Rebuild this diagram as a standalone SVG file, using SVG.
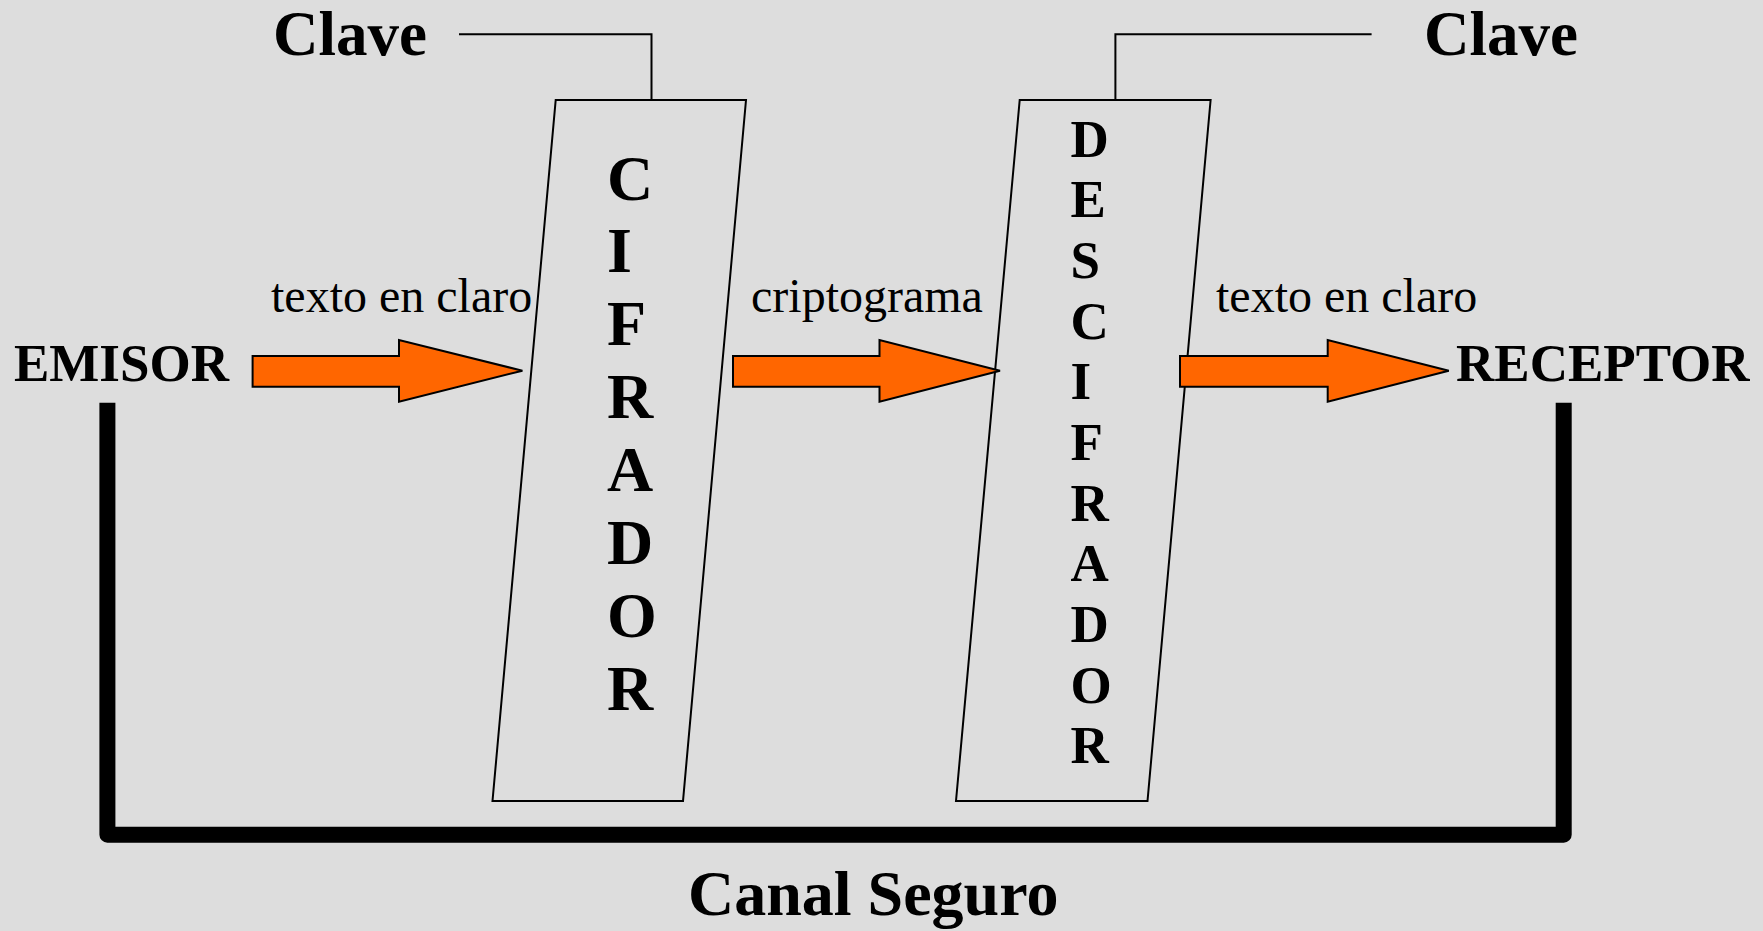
<svg xmlns="http://www.w3.org/2000/svg" width="1763" height="931" viewBox="0 0 1763 931">
<style>
.bg{fill:#DDDDDD}
.box{fill:#DDDDDD;stroke:#000;stroke-width:2}
.thin{fill:none;stroke:#000;stroke-width:2}
.arrow{fill:#FF6600;stroke:#000;stroke-width:2;stroke-linejoin:miter}
.chan{fill:none;stroke:#000;stroke-width:16;stroke-linejoin:round;stroke-linecap:butt}
.big{font-family:"Liberation Serif","Times New Roman",serif;font-weight:bold;fill:#000}
.reg{font-family:"Liberation Serif","Times New Roman",serif;font-size:48px;fill:#000}
</style>
<rect class="bg" x="0" y="0" width="1763" height="931"/>
<g id="connectors">
<path class="thin" d="M459,34.3 H651.5 V100"/>
<path class="thin" d="M1115.4,100 V34.3 H1371.6"/>
<path class="chan" d="M107.4,402.7 V834.7 H1563.7 V402.7"/>
</g>
<g id="cifrador">
<polygon class="box" points="555.7,100 746,100 683,801 492.5,801"/>
<g class="big" font-size="64">
<text x="607" y="199.5">C</text>
<text x="607" y="272.4">I</text>
<text x="607" y="345.3">F</text>
<text x="607" y="418.2">R</text>
<text x="607" y="491.1">A</text>
<text x="607" y="564">D</text>
<text x="607" y="636.9">O</text>
<text x="607" y="709.8">R</text>
</g>
</g>
<g id="descifrador">
<polygon class="box" points="1019.7,100 1210.6,100 1147.5,801 956,801"/>
<g class="big" font-size="53">
<text x="1070.5" y="156.7">D</text>
<text x="1070.5" y="217.4">E</text>
<text x="1070.5" y="278">S</text>
<text x="1070.5" y="338.7">C</text>
<text x="1070.5" y="399.3">I</text>
<text x="1070.5" y="460">F</text>
<text x="1070.5" y="520.7">R</text>
<text x="1070.5" y="581.3">A</text>
<text x="1070.5" y="642">D</text>
<text x="1070.5" y="702.6">O</text>
<text x="1070.5" y="763.3">R</text>
</g>
</g>
<g id="arrows">
<polygon class="arrow" points="252.6,356 399,356 399,340 522.4,370.7 399,401.7 399,386.7 252.6,386.7"/>
<polygon class="arrow" points="733,356 879.5,356 879.5,340 1000,370.7 879.5,401.7 879.5,386.7 733,386.7"/>
<polygon class="arrow" points="1180,356 1327.7,356 1327.7,340 1448.8,370.7 1327.7,401.7 1327.7,386.7 1180,386.7"/>
</g>
<g id="clave1"><text class="big" font-size="63" x="273" y="55">Clave</text></g>
<g id="clave2"><text class="big" font-size="63" x="1424" y="55">Clave</text></g>
<g id="emisor"><text class="big" font-size="53" x="14" y="381">EMISOR</text></g>
<g id="receptor"><text class="big" font-size="53" x="1456" y="381">RECEPTOR</text></g>
<g id="labels">
<text class="reg" x="271" y="311.7">texto en claro</text>
<text class="reg" x="751" y="311.7">criptograma</text>
<text class="reg" x="1216" y="311.7">texto en claro</text>
</g>
<g id="canal"><text class="big" font-size="64" x="688" y="914.5">Canal Seguro</text></g>
</svg>
